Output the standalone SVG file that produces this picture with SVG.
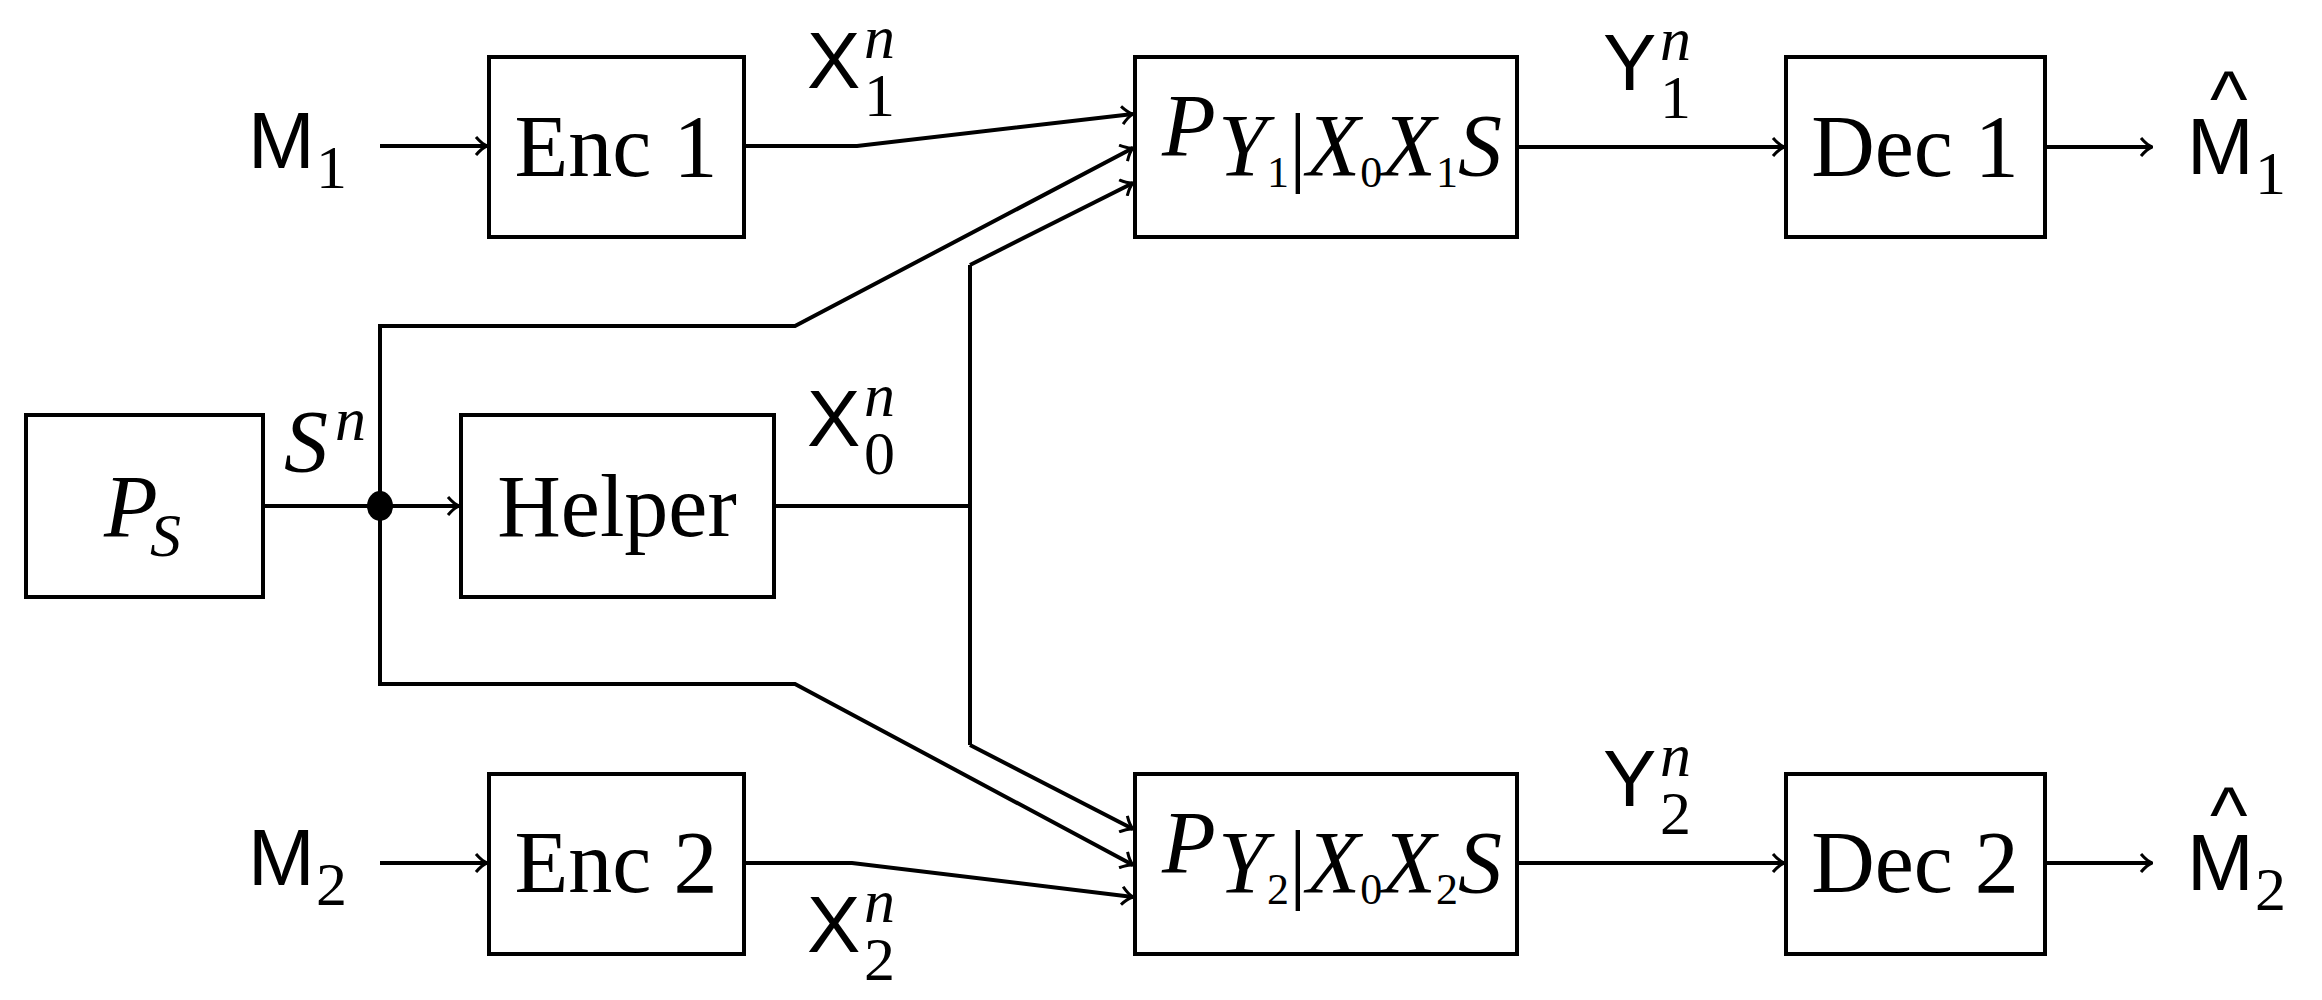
<svg xmlns="http://www.w3.org/2000/svg" width="2322" height="1000" viewBox="0 0 2322 1000">
<style>
.b{fill:#fff;stroke:#000;stroke-width:4}
.c{fill:none;stroke:#000;stroke-width:4}
.a{marker-end:url(#ar)}
.s{font-family:"Liberation Serif",serif;font-size:88px}
.ss{font-family:"Liberation Sans",sans-serif;font-size:80px}
.n{font-family:"Liberation Serif",serif;font-size:62px}
.i{font-style:italic}
.u{font-style:normal;font-size:44px}
</style>
<defs>
<marker id="ar" viewBox="-12 -10 14 20" markerWidth="14" markerHeight="20" refX="1" refY="0" markerUnits="userSpaceOnUse" orient="auto">
<path d="M-10,-9 Q-4,-2 1,0 Q-4,2 -10,9" fill="none" stroke="#000" stroke-width="3"/>
</marker>
</defs>
<g id="connectors">
<path class="c a" d="M380,146H487"/>
<path class="c a" d="M744,146H857L1133,114"/>
<path class="c a" d="M380,580V326H795L1133,148"/>
<path class="c" d="M774,506H970"/>
<path class="c a" d="M970,265L1133,183"/>
<path class="c" d="M970,265V745"/>
<path class="c a" d="M970,745L1133,829"/>
<path class="c a" d="M380,506V684H795L1133,865"/>
<path class="c a" d="M263,506H459"/>
<path class="c a" d="M380,863H487"/>
<path class="c a" d="M744,863H852L1133,897"/>
<path class="c a" d="M1517,147H1784"/>
<path class="c a" d="M1517,863H1784"/>
<path class="c a" d="M2045,147H2152"/>
<path class="c a" d="M2045,863H2152"/>
<ellipse cx="380" cy="506" rx="13" ry="15"/>
</g>
<g id="labels">
<text class="ss" x="248" y="168">M</text><text class="n" x="316" y="188">1</text>
<text class="ss" x="248" y="885">M</text><text class="n" x="316" y="905">2</text>
<text class="ss" x="807" y="88">X</text><text class="n" x="864" y="116">1</text><text class="n i" x="864" y="58">n</text>
<text class="ss" x="807" y="446">X</text><text class="n" x="864" y="474">0</text><text class="n i" x="864" y="416">n</text>
<text class="ss" x="807" y="952">X</text><text class="n" x="864" y="980">2</text><text class="n i" x="864" y="922">n</text>
<text class="s i" x="284" y="471">S</text><text class="n i" x="335" y="440">n</text>
<text class="ss" x="1603" y="90">Y</text><text class="n" x="1660" y="118">1</text><text class="n i" x="1660" y="60">n</text>
<text class="ss" x="1603" y="806">Y</text><text class="n" x="1660" y="834">2</text><text class="n i" x="1660" y="776">n</text>
<text class="ss" x="2187" y="174">M</text><text class="n" x="2255" y="194">1</text><text class="ss" x="2210" y="126" font-size="50">^</text>
<text class="ss" x="2187" y="890">M</text><text class="n" x="2255" y="910">2</text><text class="ss" x="2210" y="842" font-size="50">^</text>
</g>
<g id="ps"><rect class="b" x="26" y="415" width="237" height="182"/><text class="s i" x="104" y="536">P</text><text class="n i" x="150" y="556">S</text></g>
<g id="enc1"><rect class="b" x="489" y="57" width="255" height="180"/><text class="s" x="616" y="176" text-anchor="middle">Enc 1</text></g>
<g id="helper"><rect class="b" x="461" y="415" width="313" height="182"/><text class="s" x="617" y="536" text-anchor="middle">Helper</text></g>
<g id="enc2"><rect class="b" x="489" y="774" width="255" height="180"/><text class="s" x="616" y="892" text-anchor="middle">Enc 2</text></g>
<g id="ch1"><rect class="b" x="1135" y="57" width="382" height="180"/><text class="s i" x="1162" y="155">P</text><text class="s i" x="1218" y="175" font-size="64">Y<tspan class="u" dy="12">1</tspan><tspan font-style="normal" dy="-12">|</tspan><tspan>X</tspan><tspan class="u" dy="12">0</tspan><tspan dy="-12">X</tspan><tspan class="u" dy="12">1</tspan><tspan dy="-12">S</tspan></text></g>
<g id="ch2"><rect class="b" x="1135" y="774" width="382" height="180"/><text class="s i" x="1162" y="872">P</text><text class="s i" x="1218" y="892" font-size="64">Y<tspan class="u" dy="12">2</tspan><tspan font-style="normal" dy="-12">|</tspan><tspan>X</tspan><tspan class="u" dy="12">0</tspan><tspan dy="-12">X</tspan><tspan class="u" dy="12">2</tspan><tspan dy="-12">S</tspan></text></g>
<g id="dec1"><rect class="b" x="1786" y="57" width="259" height="180"/><text class="s" x="1915" y="176" text-anchor="middle">Dec 1</text></g>
<g id="dec2"><rect class="b" x="1786" y="774" width="259" height="180"/><text class="s" x="1915" y="892" text-anchor="middle">Dec 2</text></g>
</svg>
